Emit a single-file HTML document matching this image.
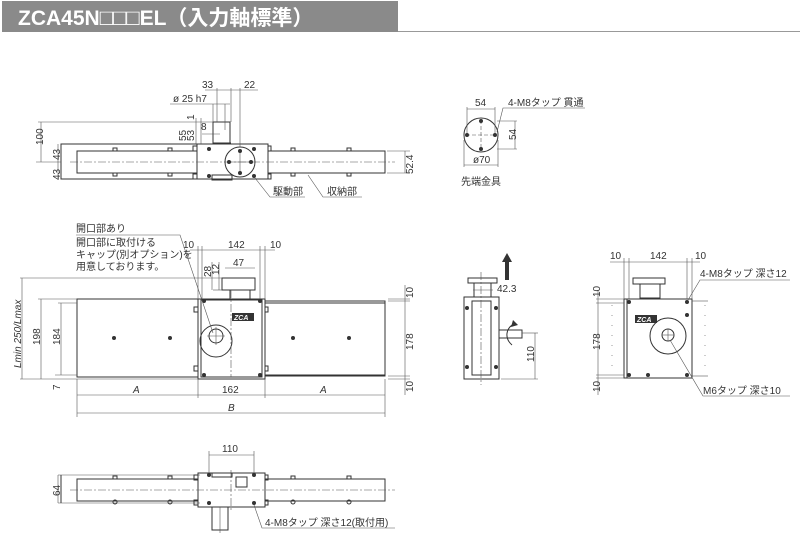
<!DOCTYPE html>
<html><head><meta charset="utf-8">
<style>
body{margin:0;background:#fff;width:800px;height:550px;overflow:hidden}
svg{display:block}
text{font-family:"Liberation Sans","Noto Sans CJK JP",sans-serif;fill:#333;font-size:10px}
.l{stroke:#333;fill:none;stroke-width:1}
.t{stroke:#555;fill:none;stroke-width:0.6}
.c{stroke:#555;fill:none;stroke-width:0.6;stroke-dasharray:8 2 2 2}
.b{fill:#333}
</style></head><body>
<svg width="800" height="550" viewBox="0 0 800 550">
<!-- title -->
<rect x="2" y="1" width="396" height="31" fill="#8a8a8a"/>
<line x1="398" y1="31.5" x2="800" y2="31.5" stroke="#999" stroke-width="1"/>
<text x="18" y="25" style="font-size:21px;font-weight:bold;fill:#fff">ZCA45N<tspan style="font-weight:normal;font-size:22px">□□□</tspan>EL（入力軸標準）</text>

<!-- ===== View 1 top ===== -->
<rect class="l" x="61" y="144" width="136" height="35"/>
<rect class="l" x="77" y="151" width="120" height="22"/>
<rect class="l" x="197" y="144" width="71" height="35"/>
<rect class="l" x="268" y="151" width="117" height="22"/>
<line class="c" x1="70" y1="162" x2="395" y2="162"/>
<circle class="l" cx="240" cy="162" r="15"/>
<line class="t" x1="240" y1="150" x2="240" y2="174"/><line class="t" x1="228" y1="162" x2="252" y2="162"/>
<circle class="b" cx="240" cy="151" r="2"/><circle class="b" cx="240" cy="173" r="2"/><circle class="b" cx="229" cy="162" r="2"/><circle class="b" cx="251" cy="162" r="2"/>
<rect class="l" x="213" y="122" width="17" height="22"/><line class="l" x1="213" y1="143" x2="231" y2="143"/>
<rect class="l" x="212" y="175" width="20" height="5"/>
<circle class="b" cx="209" cy="149" r="2"/><circle class="b" cx="209" cy="176" r="2"/><circle class="b" cx="254" cy="149" r="2"/><circle class="b" cx="254" cy="176" r="2"/>
<rect class="l" x="193" y="146" width="4" height="5"/><rect class="l" x="193" y="174" width="4" height="5"/>
<rect class="l" x="268" y="146" width="3" height="5"/><rect class="l" x="268" y="174" width="3" height="5"/>
<rect class="l" x="113" y="148" width="4" height="3"/><rect class="l" x="168" y="148" width="4" height="3"/><rect class="l" x="291" y="148" width="4" height="3"/><rect class="l" x="347" y="148" width="4" height="3"/>
<rect class="l" x="113" y="173" width="4" height="3"/><rect class="l" x="168" y="173" width="4" height="3"/><rect class="l" x="291" y="173" width="4" height="3"/><rect class="l" x="347" y="173" width="4" height="3"/>
<!-- dims view1 -->
<line class="t" x1="38" y1="122" x2="213" y2="122"/>
<line class="t" x1="41" y1="122" x2="41" y2="162"/>
<line class="t" x1="58" y1="144" x2="58" y2="179"/>
<line class="t" x1="36" y1="162" x2="61" y2="162"/>
<line class="t" x1="196" y1="118" x2="196" y2="144"/><line class="t" x1="201" y1="118" x2="201" y2="144"/>
<line class="t" x1="202" y1="134" x2="220" y2="134"/>
<line class="t" x1="170" y1="104" x2="230" y2="104"/><line class="t" x1="213" y1="104" x2="213" y2="122"/><line class="t" x1="225" y1="104" x2="225" y2="130"/>
<line class="t" x1="205" y1="90" x2="240" y2="90"/><line class="t" x1="217" y1="88" x2="217" y2="122"/><line class="t" x1="231" y1="88" x2="231" y2="122"/><line class="t" x1="240" y1="88" x2="240" y2="147"/>
<line class="t" x1="240" y1="90" x2="258" y2="90"/>
<line class="t" x1="405" y1="151" x2="405" y2="173"/><line class="t" x1="387" y1="151" x2="410" y2="151"/><line class="t" x1="387" y1="173" x2="410" y2="173"/>
<text x="202" y="88">33</text><text x="244" y="88">22</text>
<text x="173" y="102">ø 25 h7</text><text x="201" y="130">8</text>
<text transform="translate(43,145) rotate(-90)">100</text>
<text transform="translate(60,160) rotate(-90)">43</text>
<text transform="translate(60,180) rotate(-90)">43</text>
<text transform="translate(186,141) rotate(-90)">55</text>
<text transform="translate(194,141) rotate(-90)">53</text>
<text transform="translate(194,120) rotate(-90)">1</text>
<text transform="translate(413,174) rotate(-90)">52.4</text>
<polyline class="t" points="255,178 270,197 305,197"/>
<polyline class="t" points="308,175 323,197 362,197"/>
<text x="273" y="195">駆動部</text><text x="327" y="195">収納部</text>

<!-- ===== small circle view ===== -->
<circle class="l" cx="481" cy="135" r="17"/>
<line class="t" x1="481" y1="120" x2="481" y2="150" stroke-dasharray="4 2"/><line class="t" x1="466" y1="135" x2="496" y2="135" stroke-dasharray="4 2"/>
<circle class="b" cx="481" cy="121" r="2"/><circle class="b" cx="481" cy="149" r="2"/><circle class="b" cx="467" cy="135" r="2"/><circle class="b" cx="495" cy="135" r="2"/>
<line class="t" x1="467" y1="109" x2="495" y2="109"/><line class="t" x1="467" y1="107" x2="467" y2="133"/><line class="t" x1="495" y1="107" x2="495" y2="133"/>
<line class="t" x1="497" y1="121" x2="517" y2="121"/><line class="t" x1="497" y1="149" x2="517" y2="149"/><line class="t" x1="515" y1="121" x2="515" y2="149"/>
<line class="t" x1="464" y1="165" x2="498" y2="165"/><line class="t" x1="464" y1="140" x2="464" y2="167"/><line class="t" x1="498" y1="140" x2="498" y2="167"/>
<polyline class="t" points="497,132 503,108 585,108"/>
<text x="475" y="106">54</text><text x="508" y="106">4-M8タップ 貫通</text>
<text transform="translate(516,140) rotate(-90)">54</text>
<text x="473" y="163">ø70</text><text x="461" y="185">先端金具</text>

<!-- ===== View 2 front ===== -->
<rect class="l" x="77" y="299" width="121" height="78"/>
<rect class="l" x="198" y="299" width="67" height="80"/>
<rect class="l" x="201" y="300" width="61" height="77"/>
<rect class="l" x="265" y="301" width="120" height="75"/>
<line class="l" x1="265" y1="303" x2="385" y2="303"/>
<line class="l" x1="265" y1="375" x2="385" y2="375"/>
<circle class="l" cx="216" cy="341" r="16"/><circle class="l" cx="216" cy="336" r="7"/>
<line class="t" x1="216" y1="327" x2="216" y2="345"/><line class="t" x1="207" y1="336" x2="225" y2="336"/>
<rect class="l" x="222" y="278" width="33" height="12"/><rect class="l" x="230" y="290" width="20" height="10"/>
<line class="c" x1="231" y1="290" x2="231" y2="377"/>
<rect x="232" y="313" width="22" height="8" fill="#333"/><text x="234" y="320" style="font-size:7px;fill:#fff;font-weight:bold;font-style:italic">ZCA</text>
<circle class="b" cx="114" cy="338" r="2"/><circle class="b" cx="170" cy="338" r="2"/><circle class="b" cx="293" cy="338" r="2"/><circle class="b" cx="349" cy="338" r="2"/>
<circle class="b" cx="204" cy="301" r="2"/><circle class="b" cx="260" cy="301" r="2"/><circle class="b" cx="204" cy="375" r="2"/><circle class="b" cx="260" cy="375" r="2"/>
<rect class="l" x="194" y="307" width="4" height="5"/><rect class="l" x="194" y="366" width="4" height="5"/><rect class="l" x="265" y="307" width="3" height="5"/><rect class="l" x="265" y="366" width="3" height="5"/>
<!-- dims view2 -->
<line class="t" x1="20" y1="278" x2="222" y2="278"/>
<line class="t" x1="22" y1="278" x2="22" y2="379"/>
<line class="t" x1="38" y1="299" x2="77" y2="299"/><line class="t" x1="41" y1="299" x2="41" y2="379"/>
<line class="t" x1="58" y1="303" x2="77" y2="303"/><line class="t" x1="61" y1="303" x2="61" y2="375"/>
<line class="t" x1="20" y1="379" x2="198" y2="379"/><line class="t" x1="55" y1="375" x2="77" y2="375"/>
<line class="t" x1="77" y1="379" x2="77" y2="417"/><line class="t" x1="385" y1="379" x2="385" y2="417"/>
<line class="t" x1="198" y1="379" x2="198" y2="398"/><line class="t" x1="265" y1="379" x2="265" y2="398"/>
<line class="t" x1="77" y1="395" x2="385" y2="395"/><line class="t" x1="77" y1="413" x2="385" y2="413"/>
<line class="t" x1="190" y1="250" x2="275" y2="250"/>
<line class="t" x1="198" y1="246" x2="198" y2="299"/><line class="t" x1="202" y1="246" x2="202" y2="299"/>
<line class="t" x1="260" y1="246" x2="260" y2="299"/><line class="t" x1="265" y1="246" x2="265" y2="299"/>
<line class="t" x1="225" y1="268" x2="255" y2="268"/>
<line class="t" x1="213" y1="290" x2="222" y2="290"/><line class="t" x1="212" y1="262" x2="212" y2="290"/><line class="t" x1="219" y1="262" x2="219" y2="290"/>
<line class="t" x1="388" y1="299" x2="410" y2="299"/><line class="t" x1="388" y1="301" x2="410" y2="301"/><line class="t" x1="388" y1="376" x2="410" y2="376"/><line class="t" x1="388" y1="379" x2="410" y2="379"/>
<line class="t" x1="405" y1="285" x2="405" y2="395"/>
<text x="183" y="248">10</text><text x="228" y="248">142</text><text x="270" y="248">10</text>
<text x="233" y="266">47</text>
<text transform="translate(211,277) rotate(-90)">28</text>
<text transform="translate(219,275) rotate(-90)">12</text>
<text transform="translate(21,368) rotate(-90)" style="font-style:italic">Lmin 250/Lmax</text>
<text transform="translate(40,345) rotate(-90)">198</text>
<text transform="translate(60,345) rotate(-90)">184</text>
<text transform="translate(60,390) rotate(-90)">7</text>
<text transform="translate(413,298) rotate(-90)">10</text>
<text transform="translate(413,350) rotate(-90)">178</text>
<text transform="translate(413,392) rotate(-90)">10</text>
<text x="133" y="393" style="font-style:italic">A</text><text x="222" y="393">162</text><text x="320" y="393" style="font-style:italic">A</text>
<text x="228" y="411" style="font-style:italic">B</text>
<text x="76" y="232">開口部あり</text>
<polyline class="t" points="76,235 180,235 213,333"/>
<text x="76" y="246">開口部に取付ける</text>
<text x="76" y="258">キャップ(別オプション)を</text>
<text x="76" y="270">用意しております。</text>

<!-- ===== View 3 side ===== -->
<rect class="l" x="464" y="297" width="35" height="82"/>
<rect class="l" x="472" y="301" width="19" height="74"/>
<rect class="l" x="468" y="278" width="29" height="5"/><rect class="l" x="474" y="283" width="17" height="14"/>
<line class="c" x1="481" y1="272" x2="481" y2="385"/>
<rect class="l" x="499" y="330" width="23" height="8"/>
<circle class="b" cx="467" cy="308" r="2"/><circle class="b" cx="496" cy="308" r="2"/><circle class="b" cx="467" cy="367" r="2"/><circle class="b" cx="496" cy="367" r="2"/>
<polygon points="505,280 509,280 509,262 512,262 507,253 502,262 505,262" fill="#333"/>
<path class="l" d="M512,345 C504,338 506,328 514,324" stroke-width="1.5"/><polygon points="513,320 518,325 511,327" fill="#333"/>
<line class="t" x1="473" y1="290" x2="493" y2="290"/>
<line class="t" x1="522" y1="333" x2="538" y2="333"/><line class="t" x1="501" y1="379" x2="538" y2="379"/><line class="t" x1="535" y1="333" x2="535" y2="379"/>
<text x="497" y="292">42.3</text>
<text transform="translate(534,362) rotate(-90)">110</text>

<!-- ===== View 4 right ===== -->
<rect class="l" x="624" y="299" width="68" height="79"/>
<line class="l" x1="627" y1="299" x2="627" y2="378"/>
<rect class="l" x="633" y="278" width="32" height="6"/><rect class="l" x="640" y="284" width="20" height="14"/>
<circle class="l" cx="668" cy="336" r="18"/><circle class="l" cx="668" cy="335" r="6"/>
<line class="t" x1="662" y1="335" x2="674" y2="335"/><line class="t" x1="668" y1="329" x2="668" y2="341"/>
<rect x="635" y="315" width="22" height="8" fill="#333"/><text x="637" y="322" style="font-size:7px;fill:#fff;font-weight:bold;font-style:italic">ZCA</text>
<circle class="b" cx="629" cy="302" r="2"/><circle class="b" cx="687" cy="302" r="2"/><circle class="b" cx="629" cy="375" r="2"/><circle class="b" cx="687" cy="375" r="2"/>
<circle class="b" cx="687" cy="315" r="2"/><circle class="b" cx="648" cy="375" r="2"/>
<line x1="612" y1="305" x2="612" y2="375" stroke="#999" stroke-dasharray="1 9"/>
<line x1="705" y1="305" x2="705" y2="375" stroke="#999" stroke-dasharray="1 9"/>
<line class="t" x1="692" y1="301" x2="708" y2="301"/><line class="t" x1="692" y1="376" x2="708" y2="376"/>
<line class="t" x1="610" y1="262" x2="700" y2="262"/>
<line class="t" x1="624" y1="258" x2="624" y2="299"/><line class="t" x1="629" y1="258" x2="629" y2="299"/>
<line class="t" x1="687" y1="258" x2="687" y2="299"/><line class="t" x1="692" y1="258" x2="692" y2="299"/>
<line class="t" x1="598" y1="290" x2="598" y2="395"/>
<line class="t" x1="596" y1="299" x2="624" y2="299"/><line class="t" x1="596" y1="303" x2="624" y2="303"/><line class="t" x1="596" y1="375" x2="624" y2="375"/><line class="t" x1="596" y1="378" x2="624" y2="378"/>
<text x="610" y="259">10</text><text x="650" y="259">142</text><text x="695" y="259">10</text>
<text transform="translate(600,297) rotate(-90)">10</text>
<text transform="translate(600,350) rotate(-90)">178</text>
<text transform="translate(600,392) rotate(-90)">10</text>
<polyline class="t" points="688,300 700,280 790,280"/>
<text x="700" y="277">4-M8タップ 深さ12</text>
<polyline class="t" points="670,340 703,396 790,396"/>
<text x="703" y="394">M6タップ 深さ10</text>

<!-- ===== View 5 bottom ===== -->
<line class="t" x1="58" y1="475" x2="200" y2="475"/><line class="t" x1="58" y1="503" x2="200" y2="503"/>
<line class="l" x1="61" y1="475" x2="61" y2="503"/>
<rect class="l" x="77" y="479" width="121" height="22"/>
<rect class="l" x="198" y="473" width="67" height="34"/>
<rect class="l" x="265" y="479" width="120" height="22"/>
<line class="c" x1="70" y1="490" x2="395" y2="490"/>
<line class="c" x1="231" y1="470" x2="231" y2="510"/>
<rect class="l" x="212" y="507" width="16" height="23"/>
<line class="t" x1="220" y1="507" x2="220" y2="533"/>
<rect class="l" x="236" y="477" width="11" height="10"/>
<rect class="l" x="212" y="473" width="20" height="4"/>
<circle class="b" cx="209" cy="475" r="2"/><circle class="b" cx="254" cy="475" r="2"/><circle class="b" cx="209" cy="503" r="2"/><circle class="b" cx="254" cy="503" r="2"/>
<rect class="l" x="194" y="475" width="4" height="5"/><rect class="l" x="194" y="500" width="4" height="5"/><rect class="l" x="265" y="475" width="3" height="5"/><rect class="l" x="265" y="500" width="3" height="5"/>
<rect class="l" x="113" y="476" width="4" height="3"/><rect class="l" x="168" y="476" width="4" height="3"/><rect class="l" x="291" y="476" width="4" height="3"/><rect class="l" x="347" y="476" width="4" height="3"/>
<circle class="l" cx="115" cy="502" r="2"/><circle class="l" cx="170" cy="502" r="2"/><circle class="l" cx="293" cy="502" r="2"/><circle class="l" cx="349" cy="502" r="2"/>
<line class="t" x1="209" y1="455" x2="254" y2="455"/><line class="t" x1="209" y1="451" x2="209" y2="473"/><line class="t" x1="254" y1="451" x2="254" y2="473"/>
<line class="t" x1="58" y1="475" x2="58" y2="503"/>
<text x="222" y="452">110</text>
<text transform="translate(60,496) rotate(-90)">64</text>
<polyline class="t" points="254,505 262,528 395,528"/>
<text x="265" y="526">4-M8タップ 深さ12(取付用)</text>
</svg>
</body></html>
